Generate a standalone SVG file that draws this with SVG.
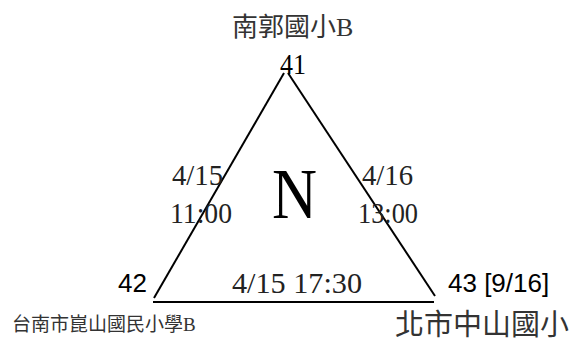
<svg xmlns="http://www.w3.org/2000/svg" width="577" height="341" viewBox="0 0 577 341">
<style>
.serif{font-family:"Liberation Serif","Noto Sans CJK TC",serif;fill:#000}
.lbl{font-family:"Liberation Serif",serif;fill:#222;font-size:30px}
.sans{font-family:"Liberation Sans",Arial,sans-serif;fill:#000}
.cjk{font-family:"Liberation Serif","Noto Sans CJK TC",serif;fill:#333}
.edge{stroke:#000;stroke-width:2;fill:none}
</style>
<rect width="577" height="341" fill="#fff"/>
<g id="connectors">
<line class="edge" x1="284" y1="73" x2="154" y2="298"/>
<line class="edge" x1="288" y1="73" x2="435" y2="296"/>
<line class="edge" x1="153" y1="302" x2="434" y2="302"/>
<text class="lbl" x="172" y="185" textLength="51" lengthAdjust="spacingAndGlyphs">4/15</text>
<text class="lbl" x="170" y="223" textLength="62" lengthAdjust="spacingAndGlyphs">11:00</text>
<text class="lbl" x="362" y="185" textLength="51" lengthAdjust="spacingAndGlyphs">4/16</text>
<text class="lbl" x="358" y="223" textLength="60" lengthAdjust="spacingAndGlyphs">13:00</text>
<text class="lbl" x="232" y="293" textLength="130" lengthAdjust="spacingAndGlyphs">4/15 17:30</text>
</g>
<g id="center">
<text class="serif" x="272" y="218" font-size="72" textLength="45" lengthAdjust="spacingAndGlyphs">N</text>
</g>
<g id="node41">
<text class="cjk" x="232" y="36" font-size="26">南郭國小B</text>
<text class="serif" x="280" y="74" font-size="30" textLength="26" lengthAdjust="spacingAndGlyphs">41</text>
</g>
<g id="node42">
<text class="sans" x="118" y="292" font-size="26">42</text>
<text class="cjk" x="12" y="331" font-size="19">台南市崑山國民小學B</text>
</g>
<g id="node43">
<text class="sans" x="448" y="292" font-size="26">43 [9/16]</text>
<text class="cjk" x="395" y="335" font-size="29">北市中山國小</text>
</g>
</svg>
